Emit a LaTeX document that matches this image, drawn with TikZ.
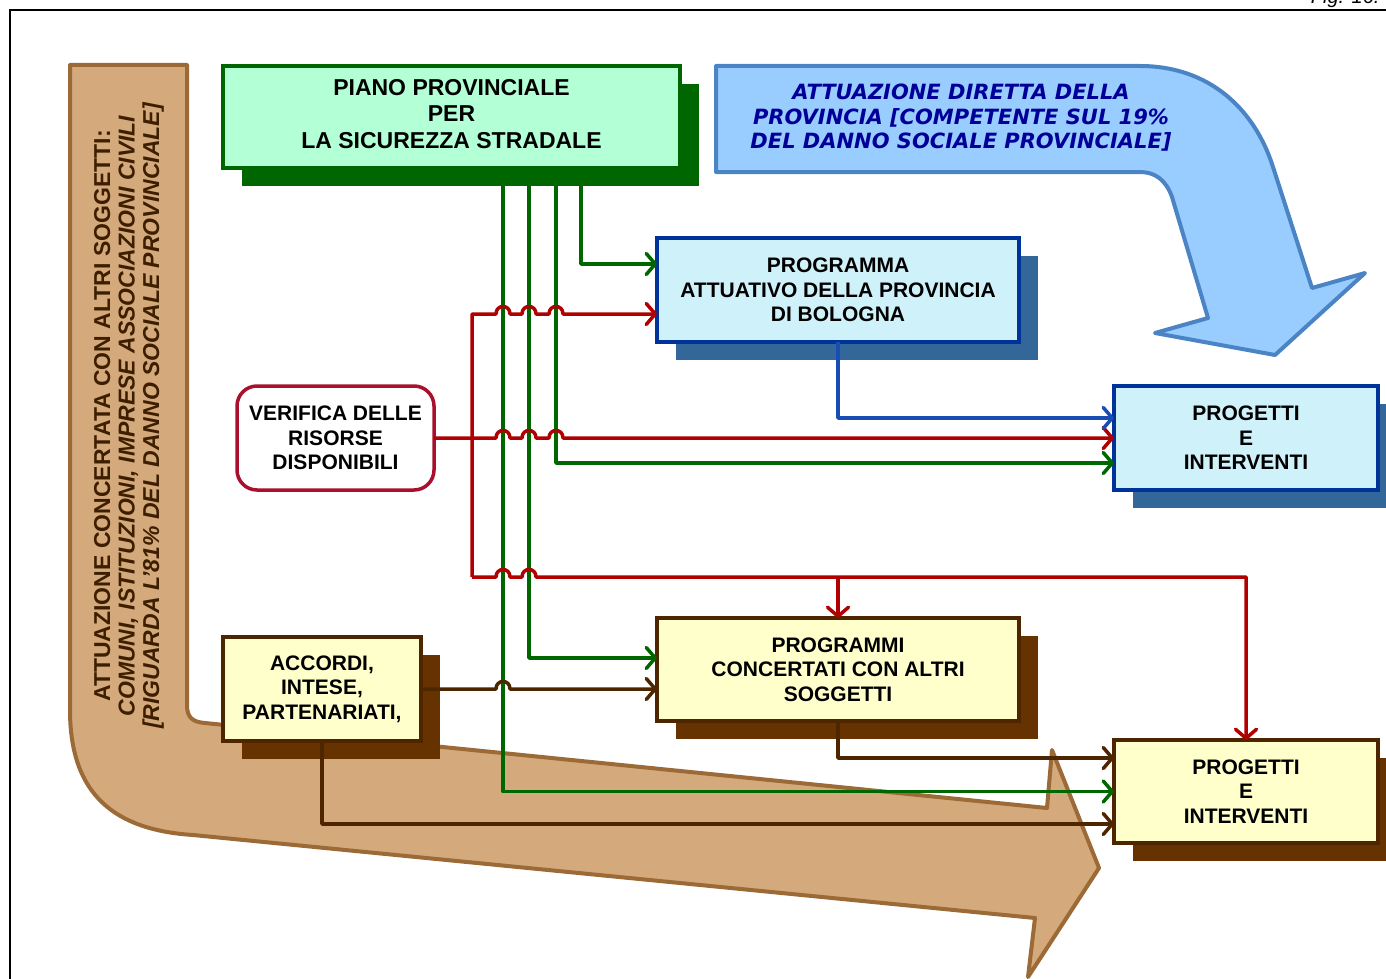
\documentclass[tikz,border=0pt]{standalone}
\usepackage{fontspec}
\setmainfont{Liberation Sans}
\newfontfamily\vfont{DejaVu Sans}
\usetikzlibrary{arrows.meta,shadows,calc}
\definecolor{tanf}{HTML}{D4A97C}
\definecolor{tand}{HTML}{9C6A36}
\definecolor{tant}{HTML}{3D1F00}
\definecolor{bluef}{HTML}{99CCFF}
\definecolor{blued}{HTML}{4A84C4}
\definecolor{bluet}{HTML}{000099}
\definecolor{dgreen}{HTML}{006600}
\definecolor{mint}{HTML}{B3FFD6}
\definecolor{lblue}{HTML}{CFF1FA}
\definecolor{nblue}{HTML}{003399}
\definecolor{sblue}{HTML}{336699}
\definecolor{vred}{HTML}{B00000}
\definecolor{crim}{HTML}{A8102E}
\definecolor{lyel}{HTML}{FFFFCC}
\definecolor{dbrown}{HTML}{4D2600}
\definecolor{sbrown}{HTML}{663300}
\definecolor{lineblue}{HTML}{1A4DB3}
\newcommand\hop[2]{-- ({#1-7},#2) .. controls ({#1-7},{#2-10}) and ({#1+7},{#2-10}) .. ({#1+7},#2)}
\begin{document}
\begin{tikzpicture}[x=1pt,y=-1pt,
  box/.style={draw, line width=3.5pt, align=center, anchor=north west, inner sep=0pt, outer sep=0pt,
    font=\bfseries\fontsize{21}{24.5}\selectfont},
  shad/.style={drop shadow={shadow xshift=19pt, shadow yshift=-18pt, fill=#1, opacity=1}},
  conn/.style={line width=3.5pt, line join=round, -{Straight Barb[length=9pt,width=21pt,round]}},
  plainline/.style={line width=3.5pt, line join=round}]
\useasboundingbox (0,0) rectangle (1386,979);
% frame
\draw[line width=2.5pt] (10,1000) -- (10,10) -- (1400,10);
\node[anchor=base east, font=\itshape\fontsize{20}{24}\selectfont] (fig) at (1383,4) {Fig. 16.};
% tan arrow
\draw[fill=tanf, draw=tand, line width=4pt, line join=round]
  (70,65) -- (187,65) -- (187,705) .. controls (187,717) and (192,722) .. (205,723)
  -- (1047,808) -- (1052,750) -- (1099,868) -- (1028,977) -- (1035,918)
  -- (193,835) .. controls (115,830) and (70,795) .. (70,710) -- cycle;
\node[rotate=90, align=center, text=tant, font=\bfseries\fontsize{23}{24.5}\selectfont] (tantext) at (129,416)
  {ATTUAZIONE CONCERTATA CON ALTRI SOGGETTI:\\\itshape COMUNI, ISTITUZIONI, IMPRESE ASSOCIAZIONI CIVILI\\\itshape [RIGUARDA L’81\% DEL DANNO SOCIALE PROVINCIALE]};
% blue arrow
\draw[fill=bluef, draw=blued, line width=4pt, line join=round]
  (716,66) -- (1140,66) .. controls (1210,66) and (1255,110) .. (1273,167)
  -- (1312,288) -- (1365,273) -- (1275,355) -- (1155,333) -- (1208,318)
  -- (1172,197) .. controls (1166,180) and (1155,172) .. (1140,172) -- (716,172) -- cycle;
\node[align=center, text=bluet, font=\vfont\bfseries\itshape\fontsize{21}{24.5}\selectfont] (bluetext) at (961,118)
  {ATTUAZIONE DIRETTA DELLA\\PROVINCIA [COMPETENTE SUL 19\%\\DEL DANNO SOCIALE PROVINCIALE]};
% nodes (except piano)
\node[box, fill=lblue, draw=nblue, shad=sblue, minimum width=362pt, minimum height=104pt] (prog) at (657,238)
  {PROGRAMMA\\ATTUATIVO DELLA PROVINCIA\\DI BOLOGNA};
\node[box, fill=white, draw=crim, rounded corners=20pt, minimum width=197pt, minimum height=104pt] (ver) at (237,386)
  {VERIFICA DELLE\\RISORSE\\DISPONIBILI};
\node[box, fill=lblue, draw=nblue, shad=sblue, minimum width=264pt, minimum height=104pt] (pbi) at (1114,386)
  {PROGETTI\\E\\INTERVENTI};
\node[box, fill=lyel, draw=dbrown, shad=sbrown, minimum width=198pt, minimum height=104pt] (acc) at (223,637)
  {ACCORDI,\\INTESE,\\PARTENARIATI,};
\node[box, fill=lyel, draw=dbrown, shad=sbrown, minimum width=362pt, minimum height=103pt] (pc) at (657,618)
  {PROGRAMMI\\CONCERTATI CON ALTRI\\SOGGETTI};
\node[box, fill=lyel, draw=dbrown, shad=sbrown, minimum width=264pt, minimum height=103pt] (pbl) at (1114,740)
  {PROGETTI\\E\\INTERVENTI};
% green connectors (from piano, under its shadow)
\path (223,168) coordinate (pianosw);
\draw[conn, dgreen] ([xshift=358pt]pianosw) |- ([yshift=26pt]prog.west);
\draw[conn, dgreen] ([xshift=333pt]pianosw) |- ([yshift=-25pt]pbi.west);
\draw[conn, dgreen] ([xshift=306pt]pianosw) |- ([yshift=11.5pt]pc.west);
\draw[conn, dgreen] ([xshift=280pt]pianosw) |- (pbl.west);
% piano node
\node[box, fill=mint, draw=dgreen, shad=dgreen, minimum width=457pt, minimum height=102pt,
  font=\bfseries\fontsize{23}{26.5}\selectfont] (piano) at (223,66)
  {PIANO PROVINCIALE\\PER\\LA SICUREZZA STRADALE\\[-20pt]\mbox{}};
% red connectors
\coordinate (rt) at (472,314);
\coordinate (rb) at (472,577);
\draw[conn, vred] (ver.east) \hop{503}{438} \hop{529}{438} \hop{556}{438} -- (pbi.west);
\draw[conn, vred] (rb) -- (rt) \hop{503}{314} \hop{529}{314} \hop{556}{314} -- ([yshift=-24pt]prog.west);
\draw[conn, vred] (rb) \hop{503}{577} \hop{529}{577} -- (rb -| pbl.north) -- (pbl.north);
\draw[conn, vred] (rb -| pc.north) -- (pc.north);
% blue connector
\draw[conn, lineblue] (prog.south) |- ([yshift=20pt]pbi.west);
% brown connectors
\draw[conn, dbrown] (acc.east) \hop{503}{689} -- (acc.east -| pc.west);
\draw[conn, dbrown] (acc.south) |- ([yshift=-32.5pt]pbl.west);
\draw[conn, dbrown] (pc.south) |- ([yshift=33.5pt]pbl.west);
\end{tikzpicture}
\end{document}
